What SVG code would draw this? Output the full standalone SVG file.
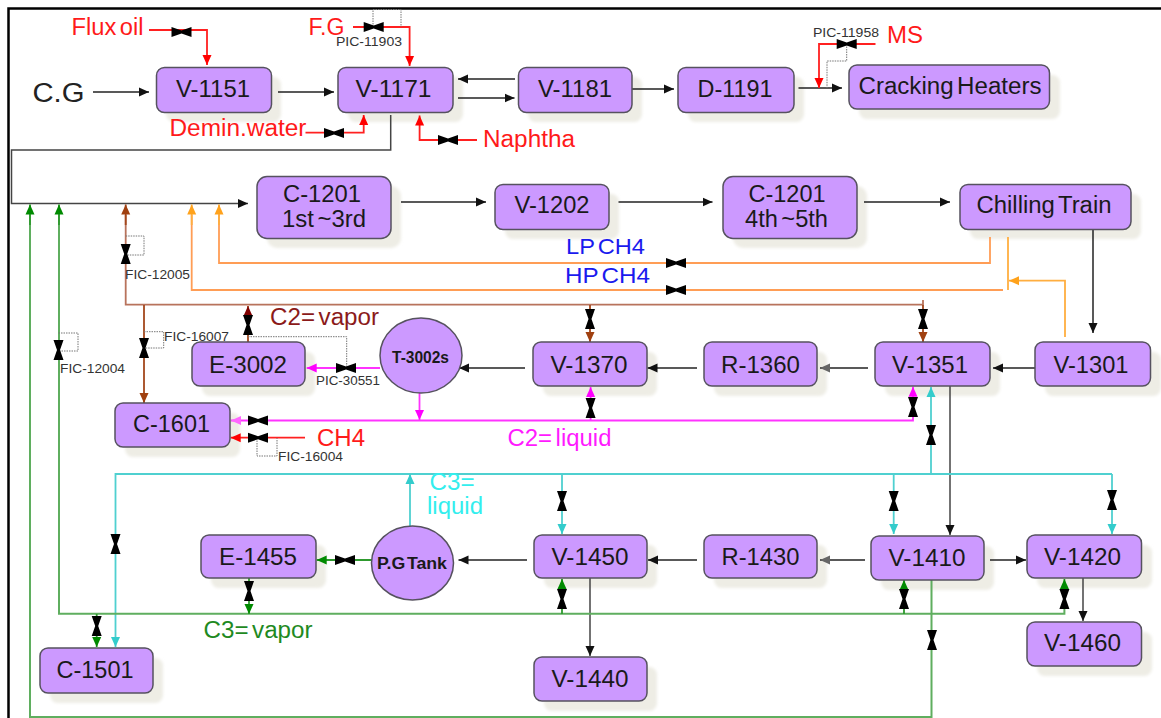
<svg xmlns="http://www.w3.org/2000/svg" width="1161" height="718" viewBox="0 0 1161 718">
<style>
text{font-family:"Liberation Sans",Arial,sans-serif;word-spacing:-3px;}
.n{fill:#cc99ff;stroke:#56525f;stroke-width:1.5;}
.s{fill:#eeede5;filter:url(#b);}
.l{font-size:23px;fill:#1a1a1a;text-anchor:middle;}
.lb{font-size:16px;font-weight:bold;fill:#1a1a1a;text-anchor:middle;}
.c{fill:none;stroke-width:1.5;}
.k{stroke:#222;}
.dk{stroke:#444;}
.r{stroke:#ff2020;stroke-width:1.8;}
.o{stroke:#ff9d55;stroke-width:1.8;}
.oo{stroke:#ffae40;stroke-width:1.8;}
.br{stroke:#b8735c;stroke-width:1.8;}
.bd{stroke:#a3471c;stroke-width:1.8;}
.m{stroke:#ff33ff;stroke-width:1.8;}
.cy{stroke:#4fd0d0;stroke-width:1.8;}
.g{stroke:#5fae5f;stroke-width:2;}
.gg{stroke:#2e9a2e;stroke-width:1.8;}
.d{fill:none;stroke:#777;stroke-width:1;stroke-dasharray:1.5 1;}
.tag{font-size:12px;fill:#333;}
.red{font-size:23px;fill:#ff1a1a;}
.blue{font-size:22px;fill:#1a1aee;}
.lg{font-size:23px;}
.valve{fill:#000;}
</style>
<defs>
<filter id="b" x="-10%" y="-20%" width="120%" height="140%"><feGaussianBlur stdDeviation="1.5"/></filter>
<marker id="ak" markerUnits="userSpaceOnUse" markerWidth="11" markerHeight="10" refX="10" refY="5" orient="auto"><path d="M0 .5L10 5L0 9.500z" fill="#111"/></marker>
<marker id="ag" markerUnits="userSpaceOnUse" markerWidth="11" markerHeight="10" refX="10" refY="5" orient="auto"><path d="M0 .5L10 5L0 9.500z" fill="#666"/></marker>
<marker id="ar" markerUnits="userSpaceOnUse" markerWidth="11" markerHeight="10" refX="10" refY="5" orient="auto"><path d="M0 .5L10 5L0 9.500z" fill="#ff0000"/></marker>
<marker id="ao" markerUnits="userSpaceOnUse" markerWidth="11" markerHeight="10" refX="10" refY="5" orient="auto"><path d="M0 .5L10 5L0 9.500z" fill="#ffa21c"/></marker>
<marker id="ab" markerUnits="userSpaceOnUse" markerWidth="11" markerHeight="10" refX="10" refY="5" orient="auto"><path d="M0 .5L10 5L0 9.500z" fill="#a04010"/></marker>
<marker id="ad" markerUnits="userSpaceOnUse" markerWidth="11" markerHeight="10" refX="10" refY="5" orient="auto"><path d="M0 .5L10 5L0 9.500z" fill="#800000"/></marker>
<marker id="am" markerUnits="userSpaceOnUse" markerWidth="11" markerHeight="10" refX="10" refY="5" orient="auto"><path d="M0 .5L10 5L0 9.500z" fill="#ff00ff"/></marker>
<marker id="al" markerUnits="userSpaceOnUse" markerWidth="11" markerHeight="10" refX="10" refY="5" orient="auto"><path d="M0 .5L10 5L0 9.500z" fill="#ff66ff"/></marker>
<marker id="ac" markerUnits="userSpaceOnUse" markerWidth="11" markerHeight="10" refX="10" refY="5" orient="auto"><path d="M0 .5L10 5L0 9.500z" fill="#33cccc"/></marker>
<marker id="an" markerUnits="userSpaceOnUse" markerWidth="11" markerHeight="10" refX="10" refY="5" orient="auto"><path d="M0 .5L10 5L0 9.500z" fill="#008a00"/></marker>
<path id="vh" d="M-10 -5L0 -1.500L10 -5V5L0 1.500L-10 5z"/>
<path id="vv" d="M-5 -10L-1.500 0L-5 10H5L1.500 0L5 -10z"/>
</defs>
<rect width="1161" height="718" fill="#fff"/>
<path d="M8.500 718V8.500H1161" fill="none" stroke="#000" stroke-width="2.500"/>

<g id="shadows">
<rect class="s" x="166" y="77" width="115" height="45" rx="8"/>
<rect class="s" x="348" y="77" width="115" height="45" rx="8"/>
<rect class="s" x="528" y="77" width="114" height="45" rx="8"/>
<rect class="s" x="688" y="77" width="116" height="45" rx="8"/>
<rect class="s" x="859" y="75" width="201" height="44" rx="8"/>
<rect class="s" x="267" y="186" width="134" height="62" rx="10"/>
<rect class="s" x="505" y="194" width="114" height="45" rx="8"/>
<rect class="s" x="733" y="186" width="134" height="62" rx="10"/>
<rect class="s" x="970" y="194" width="171" height="45" rx="8"/>
<rect class="s" x="1045" y="352" width="116" height="44" rx="8"/>
<rect class="s" x="885" y="352" width="115" height="44" rx="8"/>
<rect class="s" x="714" y="352" width="113" height="44" rx="8"/>
<rect class="s" x="543" y="352" width="114" height="44" rx="8"/>
<rect class="s" x="202" y="352" width="113" height="44" rx="8"/>
<rect class="s" x="125" y="413" width="115" height="44" rx="8"/>
<rect class="s" x="50" y="658" width="113" height="45" rx="8"/>
<rect class="s" x="211" y="545" width="115" height="43" rx="8"/>
<rect class="s" x="544" y="545" width="113" height="43" rx="8"/>
<rect class="s" x="544" y="667" width="113" height="44" rx="8"/>
<rect class="s" x="714" y="545" width="113" height="43" rx="8"/>
<rect class="s" x="881" y="546" width="113" height="44" rx="8"/>
<rect class="s" x="1037" y="545" width="115" height="43" rx="8"/>
<rect class="s" x="1037" y="632" width="115" height="44" rx="8"/>
</g>

<g id="connectors">
<path class="c k" marker-end="url(#ak)" d="M93 92H149"/>
<path class="c k" marker-end="url(#ak)" d="M278 92H334"/>
<path class="c k" marker-end="url(#ak)" d="M515 79H458"/>
<path class="c k" marker-end="url(#ak)" d="M458 98H514.500"/>
<path class="c k" marker-end="url(#ak)" d="M632 89H674"/>
<path class="c k" marker-end="url(#ak)" d="M798.500 88H842"/>
<path class="c dk" marker-end="url(#ak)" d="M390.700 115V150H11.500V203.500H248"/>
<path class="c k" marker-end="url(#ak)" d="M401 202H486"/>
<path class="c k" marker-end="url(#ak)" d="M618.500 202H712.500"/>
<path class="c k" marker-end="url(#ak)" d="M864 202H950"/>
<path class="c k" marker-end="url(#ak)" d="M1093 229V333"/>
<path class="c k" marker-end="url(#ak)" d="M1035 368H993"/>
<path class="c k" marker-end="url(#ag)" d="M868 368H820"/>
<path class="c k" marker-end="url(#ak)" d="M697 368H647.500"/>
<path class="c k" marker-end="url(#ak)" d="M525 368H459"/>
<path class="c dk" marker-end="url(#ak)" d="M950 386V535"/>
<path class="c k" marker-end="url(#ag)" d="M865 560H820"/>
<path class="c k" marker-end="url(#ak)" d="M697 560H648"/>
<path class="c k" marker-end="url(#ak)" d="M527 560H458.500"/>
<path class="c k" marker-end="url(#ak)" d="M990 560H1026"/>
<path class="c dk" marker-end="url(#ak)" d="M1083 578V621"/>
<path class="c dk" marker-end="url(#ak)" d="M590 578V656"/>

<path class="c r" marker-end="url(#ar)" d="M149 30H207V65"/>
<path class="c r" marker-end="url(#ar)" d="M353 27H409.600V66"/>
<path class="c r" marker-end="url(#ar)" d="M305.500 132.700H363.700V115"/>
<path class="c r" marker-end="url(#ar)" d="M477 140H419.600V115.500"/>
<path class="c r" marker-end="url(#ar)" d="M875.500 44H819V88"/>
<path class="c r" marker-end="url(#ar)" d="M305 437.700H230.700"/>

<path class="c o" d="M990 237V263H219V215"/>
<path class="c oo" marker-end="url(#ao)" d="M219 225V204.500"/>
<path class="c o" d="M1003 290H191.700V215"/>
<path class="c oo" marker-end="url(#ao)" d="M191.700 225V204.500"/>
<path class="c oo" d="M1008 237V290"/>
<path class="c oo" marker-end="url(#ao)" d="M1065 337V280.700H1009"/>

<path class="c br" d="M923 300V304.700H125.700V215"/>
<path class="c bd" marker-end="url(#ab)" d="M125.700 225V204.500"/>
<path class="c bd" marker-end="url(#ab)" d="M144 305V403"/>
<path class="c bd" marker-end="url(#ad)" d="M248 342V306"/>
<path class="c bd" marker-end="url(#ab)" d="M590 305V342"/>
<path class="c bd" marker-end="url(#ab)" d="M923 305V342"/>

<path class="c m" marker-end="url(#am)" d="M380 368H306.700"/>
<path class="c m" marker-end="url(#am)" d="M419.500 393V420"/>
<path class="c m" marker-end="url(#al)" d="M913 400V420.500H231"/>
<path class="c m" marker-end="url(#am)" d="M913 410V386.700"/>
<path class="c m" marker-end="url(#am)" d="M590.600 420V387"/>

<path class="c cy" marker-end="url(#ac)" d="M1112 474H115.500V647"/>
<path class="c cy" marker-end="url(#ac)" d="M1112 474V534"/>
<path class="c cy" marker-end="url(#ac)" d="M931 474V387"/>
<path class="c cy" marker-end="url(#ac)" d="M410 526V474"/>
<path class="c cy" marker-end="url(#ac)" d="M562 474V534"/>
<path class="c cy" marker-end="url(#ac)" d="M893.700 474V534"/>

<path class="c g" d="M1064.400 600V613.700H59V215"/>
<path class="c gg" marker-end="url(#an)" d="M59 225V204.500"/>
<path class="c gg" marker-end="url(#an)" d="M1064.400 600V579"/>
<path class="c g" d="M931.500 580V717H30V215"/>
<path class="c gg" marker-end="url(#an)" d="M30 225V204.500"/>
<path class="c gg" marker-end="url(#an)" d="M96.700 614V647"/>
<path class="c gg" marker-end="url(#an)" d="M249 578V614"/>
<path class="c gg" marker-end="url(#an)" d="M372 560H316.700"/>
<path class="c gg" marker-end="url(#an)" d="M562 614V579"/>
<path class="c gg" marker-end="url(#an)" d="M904 614V580"/>

<path class="d" d="M373 27V9.500H401V27"/>
<path class="d" d="M846.700 44V61H827V88"/>
<path class="d" d="M125.700 236H144V255H125.700"/>
<path class="d" d="M144 331.700H163.700V348H144"/>
<path class="d" d="M248 336.700H346.700V368"/>
<path class="d" d="M257 438V456H277V438"/>
<path class="d" d="M58.500 333H78V351H58.500"/>
</g>

<g id="valves" class="valve">
<use href="#vh" x="181.500" y="32"/>
<use href="#vh" x="373.700" y="27"/>
<use href="#vh" x="334" y="133"/>
<use href="#vh" x="448" y="140"/>
<use href="#vh" x="846.700" y="44"/>
<use href="#vh" x="676" y="263"/>
<use href="#vh" x="676" y="290"/>
<use href="#vh" x="346" y="368"/>
<use href="#vh" x="258" y="420.500"/>
<use href="#vh" x="258" y="437.700"/>
<use href="#vh" x="345" y="560"/>
<use href="#vv" x="125.700" y="254"/>
<use href="#vv" x="144" y="348"/>
<use href="#vv" x="248" y="325"/>
<use href="#vv" x="590" y="319"/>
<use href="#vv" x="923" y="319"/>
<use href="#vv" x="913" y="407"/>
<use href="#vv" x="590.600" y="408"/>
<use href="#vv" x="931" y="435"/>
<use href="#vv" x="58.500" y="350"/>
<use href="#vv" x="115.500" y="544"/>
<use href="#vv" x="562" y="501"/>
<use href="#vv" x="893.700" y="501"/>
<use href="#vv" x="1112" y="500"/>
<use href="#vv" x="249" y="591"/>
<use href="#vv" x="96.700" y="626"/>
<use href="#vv" x="562" y="599"/>
<use href="#vv" x="904" y="599"/>
<use href="#vv" x="1064.400" y="599"/>
<use href="#vv" x="932" y="640"/>
</g>

<g id="v1151"><rect class="n" x="156.500" y="67.500" width="115" height="45" rx="8"/><text class="l" x="213" y="97" textLength="74" lengthAdjust="spacingAndGlyphs">V-1151</text></g>
<g id="v1171"><rect class="n" x="338" y="67.500" width="115" height="45" rx="8"/><text class="l" x="393.500" y="97" textLength="76" lengthAdjust="spacingAndGlyphs">V-1171</text></g>
<g id="v1181"><rect class="n" x="518.500" y="67.500" width="113.500" height="45" rx="8"/><text class="l" x="575" y="97" textLength="74" lengthAdjust="spacingAndGlyphs">V-1181</text></g>
<g id="d1191"><rect class="n" x="678" y="67.500" width="116" height="45" rx="8"/><text class="l" x="735" y="97" textLength="75" lengthAdjust="spacingAndGlyphs">D-1191</text></g>
<g id="cracking"><rect class="n" x="849" y="65" width="200.500" height="44" rx="8"/><text class="l" x="950" y="94" textLength="183" lengthAdjust="spacingAndGlyphs">Cracking Heaters</text></g>
<g id="c1201a"><rect class="n" x="257" y="176.500" width="134" height="62" rx="10"/><text class="l" x="322" y="202" textLength="78" lengthAdjust="spacingAndGlyphs">C-1201</text><text class="l" x="324" y="227" textLength="84" lengthAdjust="spacingAndGlyphs">1st ~3rd</text></g>
<g id="v1202"><rect class="n" x="495" y="184.500" width="114" height="45" rx="8"/><text class="l" x="552" y="213" textLength="75" lengthAdjust="spacingAndGlyphs">V-1202</text></g>
<g id="c1201b"><rect class="n" x="723" y="176.500" width="134" height="62" rx="10"/><text class="l" x="787" y="202" textLength="77" lengthAdjust="spacingAndGlyphs">C-1201</text><text class="l" x="786.500" y="227" textLength="83" lengthAdjust="spacingAndGlyphs">4th ~5th</text></g>
<g id="chilling"><rect class="n" x="960" y="184.500" width="171" height="45" rx="8"/><text class="l" x="1044" y="213" textLength="135" lengthAdjust="spacingAndGlyphs">Chilling Train</text></g>
<g id="v1301"><rect class="n" x="1035" y="342" width="115.500" height="44" rx="8"/><text class="l" x="1091" y="372.500" textLength="75" lengthAdjust="spacingAndGlyphs">V-1301</text></g>
<g id="v1351"><rect class="n" x="875" y="342" width="115" height="44" rx="8"/><text class="l" x="930" y="372.500" textLength="76" lengthAdjust="spacingAndGlyphs">V-1351</text></g>
<g id="r1360"><rect class="n" x="704" y="342" width="113" height="44" rx="8"/><text class="l" x="760.500" y="372.500" textLength="79" lengthAdjust="spacingAndGlyphs">R-1360</text></g>
<g id="v1370"><rect class="n" x="533" y="342" width="114" height="44" rx="8"/><text class="l" x="589" y="372.500" textLength="77" lengthAdjust="spacingAndGlyphs">V-1370</text></g>
<g id="e3002"><rect class="n" x="192" y="342" width="113" height="44" rx="8"/><text class="l" x="248" y="372.500" textLength="78" lengthAdjust="spacingAndGlyphs">E-3002</text></g>
<g id="t3002"><ellipse class="n" cx="421" cy="355.500" rx="41" ry="37.500"/><text class="lb" x="420.500" y="362.500" textLength="57" lengthAdjust="spacingAndGlyphs">T-3002s</text></g>
<g id="c1601"><rect class="n" x="115" y="403" width="115" height="44" rx="8"/><text class="l" x="171.500" y="432" textLength="77" lengthAdjust="spacingAndGlyphs">C-1601</text></g>
<g id="c1501"><rect class="n" x="40" y="648" width="113" height="45" rx="8"/><text class="l" x="95" y="678" textLength="77" lengthAdjust="spacingAndGlyphs">C-1501</text></g>
<g id="e1455"><rect class="n" x="201" y="535" width="115" height="43" rx="8"/><text class="l" x="258" y="565" textLength="78" lengthAdjust="spacingAndGlyphs">E-1455</text></g>
<g id="pgtank"><ellipse class="n" cx="412.500" cy="563" rx="41" ry="37"/><text class="lb" x="412" y="569" textLength="70" lengthAdjust="spacingAndGlyphs">P.G Tank</text></g>
<g id="v1450"><rect class="n" x="534" y="535" width="113" height="43" rx="8"/><text class="l" x="590" y="565" textLength="77" lengthAdjust="spacingAndGlyphs">V-1450</text></g>
<g id="v1440"><rect class="n" x="534" y="657" width="113" height="44" rx="8"/><text class="l" x="590" y="687" textLength="77" lengthAdjust="spacingAndGlyphs">V-1440</text></g>
<g id="r1430"><rect class="n" x="704" y="535" width="113" height="43" rx="8"/><text class="l" x="760.500" y="565" textLength="78" lengthAdjust="spacingAndGlyphs">R-1430</text></g>
<g id="v1410"><rect class="n" x="871" y="536" width="113" height="44" rx="8"/><text class="l" x="927" y="566" textLength="77" lengthAdjust="spacingAndGlyphs">V-1410</text></g>
<g id="v1420"><rect class="n" x="1027" y="535" width="114.500" height="43" rx="8"/><text class="l" x="1082.500" y="565" textLength="77" lengthAdjust="spacingAndGlyphs">V-1420</text></g>
<g id="v1460"><rect class="n" x="1027" y="622" width="114.500" height="44" rx="8"/><text class="l" x="1082.500" y="651" textLength="77" lengthAdjust="spacingAndGlyphs">V-1460</text></g>

<g id="labels">
<text x="32.500" y="101.500" font-size="27" fill="#222" textLength="52" lengthAdjust="spacingAndGlyphs">C.G</text>
<text class="red" x="71.500" y="35" textLength="72" lengthAdjust="spacingAndGlyphs">Flux oil</text>
<text class="red" x="308.500" y="35" textLength="36" lengthAdjust="spacingAndGlyphs">F.G</text>
<text class="red" x="169.500" y="136" textLength="137" lengthAdjust="spacingAndGlyphs">Demin.water</text>
<text class="red" x="483" y="146.500" textLength="92" lengthAdjust="spacingAndGlyphs">Naphtha</text>
<text class="red" x="887" y="43" textLength="36" lengthAdjust="spacingAndGlyphs">MS</text>
<text class="red" x="317" y="446" textLength="48" lengthAdjust="spacingAndGlyphs">CH4</text>
<text class="tag" x="336" y="46" textLength="66" lengthAdjust="spacingAndGlyphs">PIC-11903</text>
<text class="tag" x="813" y="37" textLength="66" lengthAdjust="spacingAndGlyphs">PIC-11958</text>
<text class="tag" x="125" y="279" textLength="65" lengthAdjust="spacingAndGlyphs">FIC-12005</text>
<text class="tag" x="164" y="341" textLength="65" lengthAdjust="spacingAndGlyphs">FIC-16007</text>
<text class="tag" x="316" y="385" textLength="64" lengthAdjust="spacingAndGlyphs">PIC-30551</text>
<text class="tag" x="60" y="373" textLength="65" lengthAdjust="spacingAndGlyphs">FIC-12004</text>
<text class="tag" x="278" y="461" textLength="65" lengthAdjust="spacingAndGlyphs">FIC-16004</text>
<text class="blue" x="566" y="254" textLength="79" lengthAdjust="spacingAndGlyphs">LP CH4</text>
<text class="blue" x="565" y="282.500" textLength="85" lengthAdjust="spacingAndGlyphs">HP CH4</text>
<text class="lg" x="270" y="325" fill="#8b1a1a" textLength="109" lengthAdjust="spacingAndGlyphs">C2= vapor</text>
<text class="lg" x="507.500" y="446" fill="#ff1aff" textLength="104" lengthAdjust="spacingAndGlyphs">C2= liquid</text>
<text class="lg" x="429.500" y="490" fill="#33eeee" textLength="45" lengthAdjust="spacingAndGlyphs">C3=</text>
<text class="lg" x="427" y="514" fill="#33eeee" textLength="56" lengthAdjust="spacingAndGlyphs">liquid</text>
<text class="lg" x="203.500" y="638" fill="#1f8a1f" textLength="109" lengthAdjust="spacingAndGlyphs">C3= vapor</text>
</g>
</svg>
